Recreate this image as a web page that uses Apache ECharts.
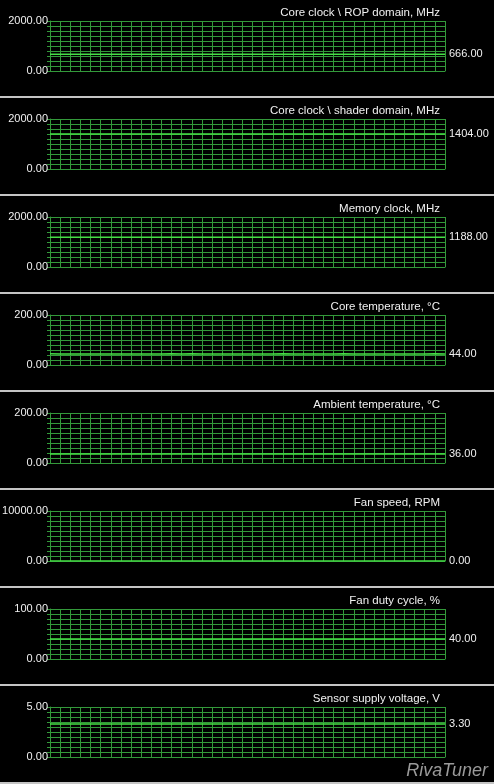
<!DOCTYPE html>
<html>
<head>
<meta charset="utf-8">
<style>
body{margin:0;background:#c4c4c4;width:494px;height:784px;overflow:hidden;}
.panel{width:494px;height:96px;background:#000;margin-bottom:2px;}
</style>
</head>
<body>
<div id="wrap"></div>
<script src="https://cdn.jsdelivr.net/npm/echarts@6/dist/echarts.min.js"></script>
<script>
var titles = ['Core clock \\ ROP domain, MHz','Core clock \\ shader domain, MHz','Memory clock, MHz',
  'Core temperature, \u00b0C','Ambient temperature, \u00b0C','Fan speed, RPM','Fan duty cycle, %','Sensor supply voltage, V'];
var maxima = [2000, 2000, 2000, 200, 200, 10000, 100, 5];
var ropClock    = [666,666,666,666,666,666,666,666,666,666,666,666,666,666,666,666,666,666,666,666,666,666,666,666,666,666,666,666,666,666,666,666,666,666,666,666,666,666,666,666];
var shaderClock = [1404,1404,1404,1404,1404,1404,1404,1404,1404,1404,1404,1404,1404,1404,1404,1404,1404,1404,1404,1404,1404,1404,1404,1404,1404,1404,1404,1404,1404,1404,1404,1404,1404,1404,1404,1404,1404,1404,1404,1404];
var memClock    = [1188,1188,1188,1188,1188,1188,1188,1188,1188,1188,1188,1188,1188,1188,1188,1188,1188,1188,1188,1188,1188,1188,1188,1188,1188,1188,1188,1188,1188,1188,1188,1188,1188,1188,1188,1188,1188,1188,1188,1188];
var coreTemp    = [45,44,44,44,44,44,44,44,44,44,44,44,45,44,45,44,44,44,44,44,44,44,44,45,44,44,44,44,44,45,44,44,44,44,44,44,44,44,45,44];
var ambientTemp = [36,36,36,36,36,36,36,36,36,36,36,36,36,36,36,36,36,36,36,36,36,36,36,36,36,36,36,36,36,36,36,36,36,36,36,36,36,36,36,36];
var fanSpeed    = [0,0,0,0,0,0,0,0,0,0,0,0,0,0,0,0,0,0,0,0,0,0,0,0,0,0,0,0,0,0,0,0,0,0,0,0,0,0,0,0];
var fanDuty     = [40,40,40,40,40,40,40,40,40,40,40,40,40,40,40,40,40,40,40,40,40,40,40,40,40,40,40,40,40,40,40,40,40,40,40,40,40,40,40,40];
var voltage     = [3.3,3.3,3.3,3.3,3.3,3.3,3.3,3.3,3.3,3.3,3.3,3.3,3.3,3.3,3.3,3.3,3.3,3.3,3.3,3.3,3.3,3.3,3.3,3.3,3.3,3.3,3.3,3.3,3.3,3.3,3.3,3.3,3.3,3.3,3.3,3.3,3.3,3.3,3.3,3.3];
var allSeries = [ropClock, shaderClock, memClock, coreTemp, ambientTemp, fanSpeed, fanDuty, voltage];

var font = 'Liberation Sans, Arial, sans-serif';
var wrap = document.getElementById('wrap');
allSeries.forEach(function (vals, i) {
  var div = document.createElement('div');
  div.className = 'panel';
  wrap.appendChild(div);
  var chart = echarts.init(div);
  var max = maxima[i];
  var graphic = [];
  if (i === 7) {
    graphic.push({type:'text', right:6, bottom:2, style:{text:'RivaTuner', fill:'#9a9a9a', font:'italic 18px ' + font}});
  }
  chart.setOption({
    animation: false,
    backgroundColor: '#000',
    title: {text: titles[i], right: 49, top: 2, textStyle: {color:'#f0f0f0', fontSize:11.5, fontWeight:'normal', fontFamily:font}},
    graphic: graphic,
    grid: {left: 50, right: 49, top: 21, height: 50, containLabel: false, outerBoundsMode: 'none'},
    xAxis: {
      type: 'value', min: 0, max: vals.length - 1, interval: 1,
      axisLabel: {show:false}, axisTick: {show:false},
      axisLine: {show:true, lineStyle:{color:'#33993a'}},
      splitLine: {show:true, lineStyle:{color:'#33993a', width:1}}
    },
    yAxis: {
      type: 'value', min: 0, max: max, interval: max / 10,
      axisLine: {show:true, lineStyle:{color:'#33993a'}},
      axisTick: {show:true, length:3, lineStyle:{color:'#33993a'}},
      splitLine: {show:true, lineStyle:{color:'#33993a', width:1}},
      axisLabel: {color:'#f0f0f0', fontSize:11, fontFamily:font, margin:2,
        formatter: function (v) { return (v === 0 || v === max) ? v.toFixed(2) : ''; }}
    },
    series: [{
      type: 'line',
      data: vals.map(function (v, k) { return [k, v]; }),
      showSymbol: false,
      lineStyle: {color:'#45e045', width:1.5},
      endLabel: {show:true, color:'#f0f0f0', fontSize:11, fontFamily:font, distance:4,
        formatter: function (p) { return p.value[1].toFixed(2); }}
    }]
  });
});
</script>
</body>
</html>
